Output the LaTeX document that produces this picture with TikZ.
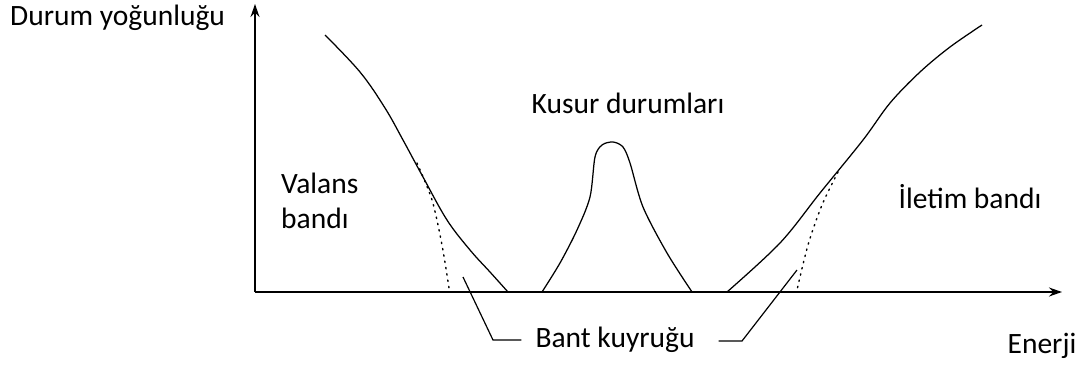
\documentclass[tikz,border=0pt]{standalone}
\usepackage{fontspec}
\setmainfont{Carlito}
\usetikzlibrary{arrows.meta}
\begin{document}
\begin{tikzpicture}[x=1pt,y=-1pt,
  lbl/.style={inner sep=0pt,font=\fontsize{29.5}{35}\selectfont,text=black},
  curve/.style={line width=1.25pt,black},
  axisline/.style={line width=1.6pt,black,-{Stealth[length=13pt,width=9pt]}},
  leader/.style={line width=1.2pt,black},
  dots/.style={line width=1.4pt,dash pattern=on 1.4pt off 5pt,line cap=round}]
\useasboundingbox (0,0) rectangle (1088,365);
\coordinate (O) at (255,292);
\coordinate (Ytip) at (255,4);
\coordinate (Xtip) at (1062,292);
\draw[axisline] (O) -- (Ytip);
\draw[axisline] (O) -- (Xtip);
% valence band
\draw[curve] plot[smooth,tension=0.6] coordinates {(325,35) (360,72) (385,108) (403,140) (423,177) (447,220) (470,250) (490,272) (508,292)};
\draw[dots] plot[smooth] coordinates {(417,163) (432,200) (442,245) (449,288)};
% defect states
\draw[curve] plot[smooth,tension=0.5] coordinates {(542,292) (560,263) (577,230) (590,197) (595,157) (602,145) (613,142) (623,147) (630,163) (643,207) (667,253) (692,292)};
% conduction band
\draw[curve] plot[smooth,tension=0.55] coordinates {(727,292) (780,243) (820,193) (863,140) (890,103) (920,72) (950,47) (982,25)};
\draw[dots] plot[smooth] coordinates {(838,172) (822,205) (808,245) (797,290)};
% labels
\node[lbl,anchor=west] (dos) at (10,18) {Durum yoğunluğu};
\node[lbl] (kusur) at (628,103) {Kusur durumları};
\node[lbl,anchor=west,align=left] (valans) at (281,201) {Valans\\bandı};
\node[lbl] (iletim) at (970,197) {İletim bandı};
\node[lbl] (enerji) at (1042,346) {Enerji};
\node[lbl] (bant) at (615,340) {Bant kuyruğu};
% leaders
\coordinate (la) at (463,277);
\coordinate (lb) at (493,340);
\coordinate (ra) at (797,270);
\coordinate (rb) at (742,341);
\draw[leader] (la) -- (lb) -- ([xshift=-14pt]bant.west |- lb);
\draw[leader] (ra) -- (rb) -- ([xshift=24pt]bant.east |- rb);
\end{tikzpicture}
\end{document}
